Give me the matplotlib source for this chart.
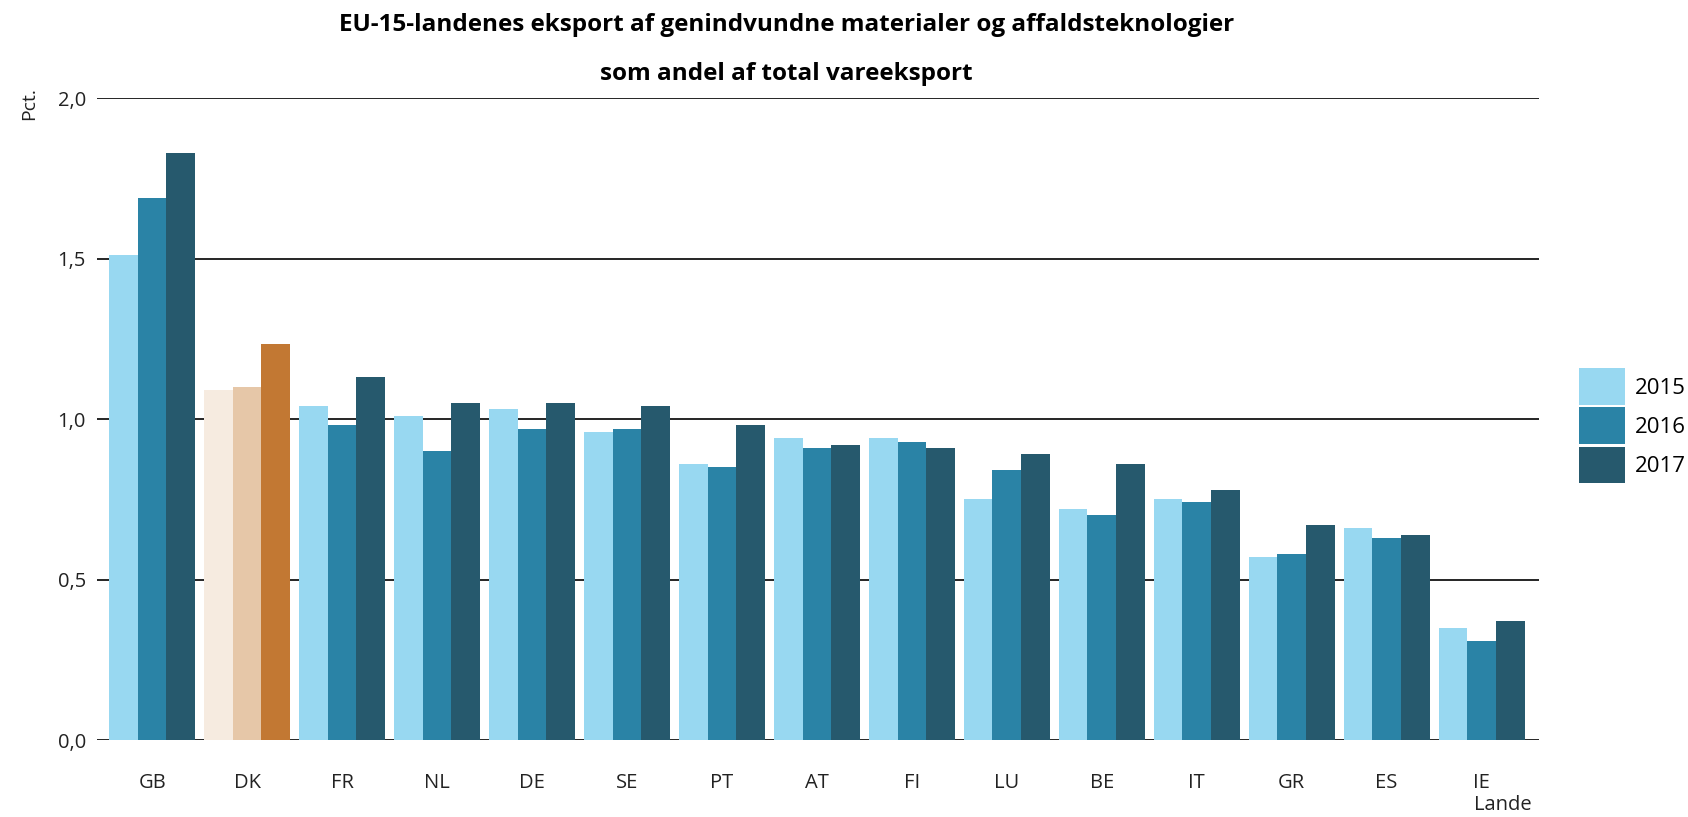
import matplotlib
matplotlib.use('Agg')
import matplotlib.pyplot as plt
import numpy as np
from matplotlib.patches import Patch

# data
lande = ['GB', 'DK', 'FR', 'NL', 'DE', 'SE', 'PT', 'AT', 'FI', 'LU', 'BE', 'IT', 'GR', 'ES', 'IE']
aar = ['2015', '2016', '2017']
v2015 = [1.51, 1.09, 1.04, 1.01, 1.03, 0.96, 0.86, 0.94, 0.94, 0.75, 0.72, 0.75, 0.57, 0.66, 0.35]
v2016 = [1.69, 1.10, 0.98, 0.90, 0.97, 0.97, 0.85, 0.91, 0.93, 0.84, 0.70, 0.74, 0.58, 0.63, 0.31]
v2017 = [1.83, 1.235, 1.13, 1.05, 1.05, 1.04, 0.98, 0.92, 0.91, 0.89, 0.86, 0.78, 0.67, 0.64, 0.37]
yticks = [0.0, 0.5, 1.0, 1.5, 2.0]
ytick_labels = ['0,0', '0,5', '1,0', '1,5', '2,0']

blaa = ['#98d8f1', '#2a83a6', '#26596d']
dk_farver = ['#f6ebe0', '#e6c7a8', '#c27833']

plt.rcParams['font.family'] = ['Open Sans', 'DejaVu Sans']

fig = plt.figure(figsize=(16.88, 8.17), dpi=100)
ax = fig.add_axes([0.0575, 0.0942, 0.854, 0.7858])

x = np.arange(len(lande))
w = 0.302
for i, vals in enumerate([v2015, v2016, v2017]):
    farver = [dk_farver[i] if l == 'DK' else blaa[i] for l in lande]
    ax.bar(x + (i - 1) * w, vals, width=w, color=farver, zorder=2, linewidth=0)

for y in yticks:
    ax.axhline(y, color='black', linewidth=1.2, zorder=1)

ax.set_ylim(0, 2.0)
ax.set_xlim(-0.58, 14.6)
ax.set_yticks(yticks)
ax.set_yticklabels(ytick_labels, fontsize=14.5, color='#222222')
ax.set_xticks(x)
ax.set_xticklabels(lande, fontsize=14.5, color='#222222')
ax.tick_params(axis='x', length=0, pad=24)
ax.tick_params(axis='y', length=0, pad=8)
for s in ax.spines.values():
    s.set_visible(False)

fig.text(0.017, 0.893, 'Pct.', rotation=90, fontsize=14, color='#222222', ha='center', va='top')
fig.text(0.89, 0.002, 'Lande', fontsize=14.5, color='#222222', ha='center', va='bottom')
fig.text(0.466, 0.969, 'EU-15-landenes eksport af genindvundne materialer og affaldsteknologier',
         fontsize=17.5, fontweight='bold', ha='center', va='center')
fig.text(0.466, 0.91, 'som andel af total vareeksport',
         fontsize=17.5, fontweight='bold', ha='center', va='center')

handles = [Patch(facecolor=c, edgecolor='none') for c in blaa]
fig.legend(handles, aar, loc='center left', bbox_to_anchor=(0.9355, 0.479), frameon=False,
           fontsize=16, handlelength=2.07, handleheight=2.14, handletextpad=0.45,
           labelspacing=0.12, borderpad=0, borderaxespad=0)

fig.savefig('out.png', dpi=100)
